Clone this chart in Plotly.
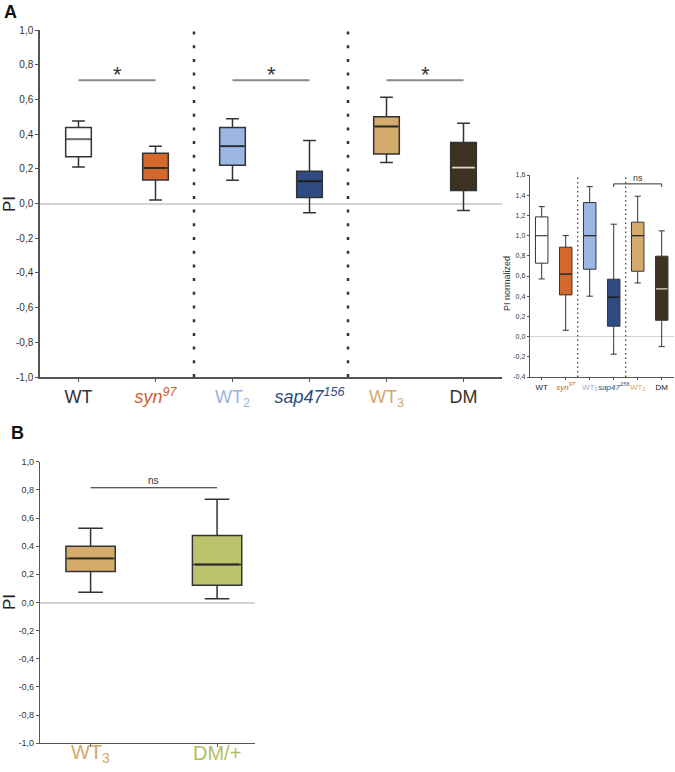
import plotly.graph_objects as go

W, H = 675, 772

# ---------------- data ----------------
# Panel A (main)
a_names = ["WT", "syn97", "WT2", "sap47_156", "WT3", "DM"]
a_upper = [0.475, 0.33, 0.488, 0.363, 0.613, 0.463]
a_q3 = [0.438, 0.29, 0.438, 0.186, 0.50, 0.352]
a_median = [0.37, 0.205, 0.33, 0.128, 0.444, 0.207]
a_q1 = [0.27, 0.135, 0.22, 0.035, 0.286, 0.075]
a_lower = [0.21, 0.02, 0.134, -0.054, 0.236, -0.04]
a_comparisons = [(0, 1, 0.71, "*"), (2, 3, 0.71, "*"), (4, 5, 0.71, "*")]

# Panel A inset (normalized)
n_upper = [1.287, 1.0, 1.485, 1.113, 1.39, 1.047]
n_q3 = [1.185, 0.885, 1.327, 0.568, 1.133, 0.796]
n_median = [1.0, 0.618, 1.0, 0.39, 1.0, 0.472]
n_q1 = [0.727, 0.413, 0.667, 0.103, 0.647, 0.162]
n_lower = [0.571, 0.063, 0.4, -0.174, 0.531, -0.099]
n_comparisons = [(3, 5, 1.512, "ns")]

# Panel B
b_names = ["WT3", "DM/+"]
b_upper = [0.528, 0.733]
b_q3 = [0.40, 0.476]
b_median = [0.313, 0.27]
b_q1 = [0.22, 0.123]
b_lower = [0.073, 0.026]
b_comparisons = [(0, 1, 0.815, "ns")]

y_ticks_pi = [-1.0, -0.8, -0.6, -0.4, -0.2, 0.0, 0.2, 0.4, 0.6, 0.8, 1.0]
y_ticks_norm = [-0.4, -0.2, 0.0, 0.2, 0.4, 0.6, 0.8, 1.0, 1.2, 1.4, 1.6]

# ---------------- styles ----------------
a_fill = ["#ffffff", "#d4692e", "#9cb7e3", "#2f4c82", "#d5ab6b", "#3e3222"]
a_median_col = ["#6e6e6e", "#2b2b2b", "#2b2b2b", "#1b1b1b", "#2b2b2b", "#e6d9bf"]
n_median_col = ["#555555", "#2b2b2b", "#2b2b2b", "#1b1b1b", "#2b2b2b", "#e6d9bf"]
a_label_col = ["#333333", "#c8622a", "#9ab3dc", "#2f4a7c", "#d2a96a", "#3b3026"]
n_label_col = ["#222222", "#c8622a", "#9ab3dc", "#2f4a7c", "#d2a96a", "#222222"]
b_fill = ["#d5ab6b", "#b9c46c"]
b_label_col = ["#d2a96a", "#b3c060"]
edge = "#333333"
FONT = "Arial, Liberation Sans, sans-serif"

a_label_html = ["WT", "<i>syn</i><sup><i>97</i></sup>", "WT<sub>2</sub>",
                "<i>sap47</i><sup><i>156</i></sup>", "WT<sub>3</sub>", "DM"]
b_label_html = ["WT<sub>3</sub>", "DM/+"]


def fmt(v):
    return ("%.1f" % v).replace(".", ",")


fig = go.Figure()


def add_boxes(xa, ya, lower, q1, med, q3, upper, fills, medcols, width, lw):
    for i in range(len(med)):
        fig.add_trace(go.Box(
            x=[i], q1=[q1[i]], median=[med[i]], q3=[q3[i]],
            lowerfence=[lower[i]], upperfence=[upper[i]],
            width=width, whiskerwidth=0.5,
            fillcolor=fills[i], line=dict(color=edge, width=lw),
            boxpoints=False, showlegend=False, hoverinfo="skip",
            xaxis=xa, yaxis=ya))
        fig.add_trace(go.Scatter(
            x=[i - width / 2 + 0.02, i + width / 2 - 0.02], y=[med[i], med[i]],
            mode="lines", line=dict(color=medcols[i], width=lw + 0.3),
            showlegend=False, hoverinfo="skip", xaxis=xa, yaxis=ya))


add_boxes("x", "y", a_lower, a_q1, a_median, a_q3, a_upper,
          a_fill, a_median_col, 0.333, 1.5)
add_boxes("x2", "y2", n_lower, n_q1, n_median, n_q3, n_upper,
          a_fill, n_median_col, 0.52, 1.0)
add_boxes("x3", "y3", b_lower, b_q1, b_median, b_q3, b_upper,
          b_fill, ["#2b2b2b", "#2b2b2b"], 0.39, 1.5)

shapes = []
annotations = []

# dotted separators
for xs in (1.5, 3.5):
    shapes.append(dict(type="line", xref="x", yref="y", x0=xs, x1=xs, y0=-1, y1=1,
                       line=dict(color="#333333", width=2.5, dash="3px,10.7px")))
    shapes.append(dict(type="line", xref="x2", yref="y2", x0=xs, x1=xs, y0=-0.4, y1=1.6,
                       line=dict(color="#333333", width=1.2, dash="1.5px,3px")))

# significance markers
for i, j, yv, t in a_comparisons:
    shapes.append(dict(type="line", xref="x", yref="y", x0=i, x1=j, y0=yv, y1=yv,
                       line=dict(color="#8a8a8a", width=2)))
    annotations.append(dict(xref="x", yref="y", x=(i + j) / 2, y=yv, text=t,
                            showarrow=False, yanchor="bottom", yshift=-9,
                            font=dict(family=FONT, size=22, color="#333333")))
for i, j, yv, t in n_comparisons:
    shapes.append(dict(type="path", xref="x2", yref="y2",
                       path="M %s,%s L %s,%s L %s,%s L %s,%s" % (i, yv - 0.03, i, yv, j, yv, j, yv - 0.03),
                       line=dict(color="#333333", width=1)))
    annotations.append(dict(xref="x2", yref="y2", x=(i + j) / 2, y=yv, text=t,
                            showarrow=False, yanchor="bottom", yshift=-1,
                            font=dict(family=FONT, size=9, color="#333333")))
for i, j, yv, t in b_comparisons:
    shapes.append(dict(type="line", xref="x3", yref="y3", x0=i, x1=j, y0=yv, y1=yv,
                       line=dict(color="#222222", width=1)))
    annotations.append(dict(xref="x3", yref="y3", x=(i + j) / 2, y=yv, text=t,
                            showarrow=False, yanchor="bottom", yshift=0,
                            font=dict(family=FONT, size=10, color="#333333")))

# panel B category labels (sit tight under the axis)
for i, (lab, col) in enumerate(zip(b_label_html, b_label_col)):
    annotations.append(dict(xref="x3", yref="paper", x=i, y=1 - 753 / H, text=lab,
                            showarrow=False, xanchor="center", yanchor="middle",
                            font=dict(family=FONT, size=20, color=col)))


# axis titles & panel letters
def paper_text(px, py, text, size, color, angle=0):
    return dict(xref="paper", yref="paper", x=px / W, y=1 - py / H, text=text,
                textangle=angle, showarrow=False, xanchor="center", yanchor="middle",
                font=dict(family=FONT, size=size, color=color))


annotations += [
    paper_text(9, 204, "PI", 17, "#222222", -90),
    paper_text(9, 602, "PI", 17, "#222222", -90),
    paper_text(507, 283, "PI normalized", 9, "#333333", -90),
    paper_text(10, 12, "<b>A</b>", 18, "#111111"),
    paper_text(17, 433, "<b>B</b>", 18, "#111111"),
]


def colored(labels, cols):
    return ["<span style='color:%s'>%s</span>" % (c, l) for l, c in zip(labels, cols)]


ax_common = dict(showgrid=False, showline=True, linecolor="#555555", ticks="outside",
                 tickcolor="#555555", fixedrange=True, automargin=False, tickangle=0)

fig.update_layout(
    width=W, height=H, margin=dict(l=0, r=0, t=0, b=0, autoexpand=False),
    paper_bgcolor="white", plot_bgcolor="white", boxmode="overlay",
    shapes=shapes, annotations=annotations, showlegend=False,
    xaxis=dict(domain=[40 / W, 502 / W], range=[-0.5, 5.5], anchor="y",
               tickvals=list(range(6)), ticktext=colored(a_label_html, a_label_col),
               tickfont=dict(family=FONT, size=18), ticklen=3, linewidth=1.5,
               zeroline=False, **ax_common),
    yaxis=dict(domain=[1 - 377 / H, 1 - 30 / H], range=[-1, 1], anchor="x",
               tickvals=y_ticks_pi, ticktext=[fmt(v) for v in y_ticks_pi],
               tickfont=dict(family=FONT, size=10, color="#333333"), ticklen=3,
               linewidth=1.5, zeroline=True, zerolinecolor="#d3d3d3", zerolinewidth=2,
               **ax_common),
    xaxis2=dict(domain=[529.7 / W, 673.7 / W], range=[-0.5, 5.5], anchor="y2",
                tickvals=list(range(6)), ticktext=colored(a_label_html, n_label_col),
                tickfont=dict(family=FONT, size=8), ticklen=2, linewidth=1,
                zeroline=False, **ax_common),
    yaxis2=dict(domain=[1 - 377 / H, 1 - 175 / H], range=[-0.4, 1.6], anchor="x2",
                tickvals=y_ticks_norm, ticktext=[fmt(v) for v in y_ticks_norm],
                tickfont=dict(family=FONT, size=7, color="#333333"), ticklen=2,
                linewidth=1, zeroline=True, zerolinecolor="#d3d3d3", zerolinewidth=1.2,
                **ax_common),
    xaxis3=dict(domain=[40 / W, 255 / W], range=[-0.4, 1.3], anchor="y3",
                tickvals=[0, 1], showticklabels=False, ticklen=3, linewidth=1.2,
                zeroline=False, **ax_common),
    yaxis3=dict(domain=[1 - 743.3 / H, 1 - 461.7 / H], range=[-1, 1], anchor="x3",
                tickvals=y_ticks_pi, ticktext=[fmt(v) for v in y_ticks_pi],
                tickfont=dict(family=FONT, size=9, color="#333333"), ticklen=3,
                linewidth=1.2, zeroline=True, zerolinecolor="#d3d3d3", zerolinewidth=1.5,
                **ax_common),
)

fig.write_html("out.html", config={"displayModeBar": False},
               post_script="document.body.style.margin='0';")
